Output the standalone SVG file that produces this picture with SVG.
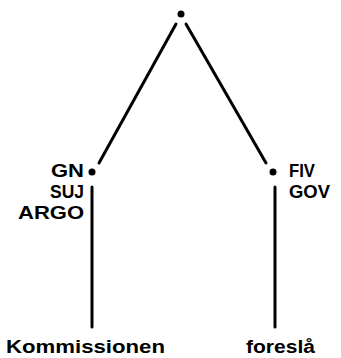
<svg xmlns="http://www.w3.org/2000/svg" width="341" height="358" viewBox="0 0 341 358">
<style>
.e{stroke:#000;stroke-width:3;stroke-linecap:round;fill:none}
.d{fill:#000}
text{font-family:"Liberation Sans",Arial,sans-serif;font-weight:bold;font-size:18px;fill:#000}
</style>
<rect width="341" height="358" fill="#fff"/>
<g id="connectors">
<line class="e" x1="176" y1="24" x2="99" y2="163"/>
<line class="e" x1="186" y1="24" x2="266" y2="163"/>
<line class="e" x1="92" y1="187" x2="92" y2="327"/>
<line class="e" x1="275" y1="187" x2="275" y2="327"/>
</g>
<g id="root"><circle class="d" cx="181" cy="14" r="3.5"/></g>
<g id="left">
<circle class="d" cx="92" cy="172" r="3.5"/>
<text x="84" y="177" text-anchor="end" textLength="33" lengthAdjust="spacingAndGlyphs">GN</text>
<text x="84" y="198" text-anchor="end" textLength="34" lengthAdjust="spacingAndGlyphs">SUJ</text>
<text x="84" y="219" text-anchor="end" textLength="66" lengthAdjust="spacingAndGlyphs">ARGO</text>
</g>
<g id="right">
<circle class="d" cx="273" cy="172" r="3.5"/>
<text x="289" y="177" textLength="26" lengthAdjust="spacingAndGlyphs">FIV</text>
<text x="289" y="198" textLength="41" lengthAdjust="spacingAndGlyphs">GOV</text>
</g>
<g id="leaf1"><text x="6" y="353" textLength="159" lengthAdjust="spacingAndGlyphs">Kommissionen</text></g>
<g id="leaf2"><text x="246" y="353" textLength="69" lengthAdjust="spacingAndGlyphs">foreslå</text></g>
</svg>
